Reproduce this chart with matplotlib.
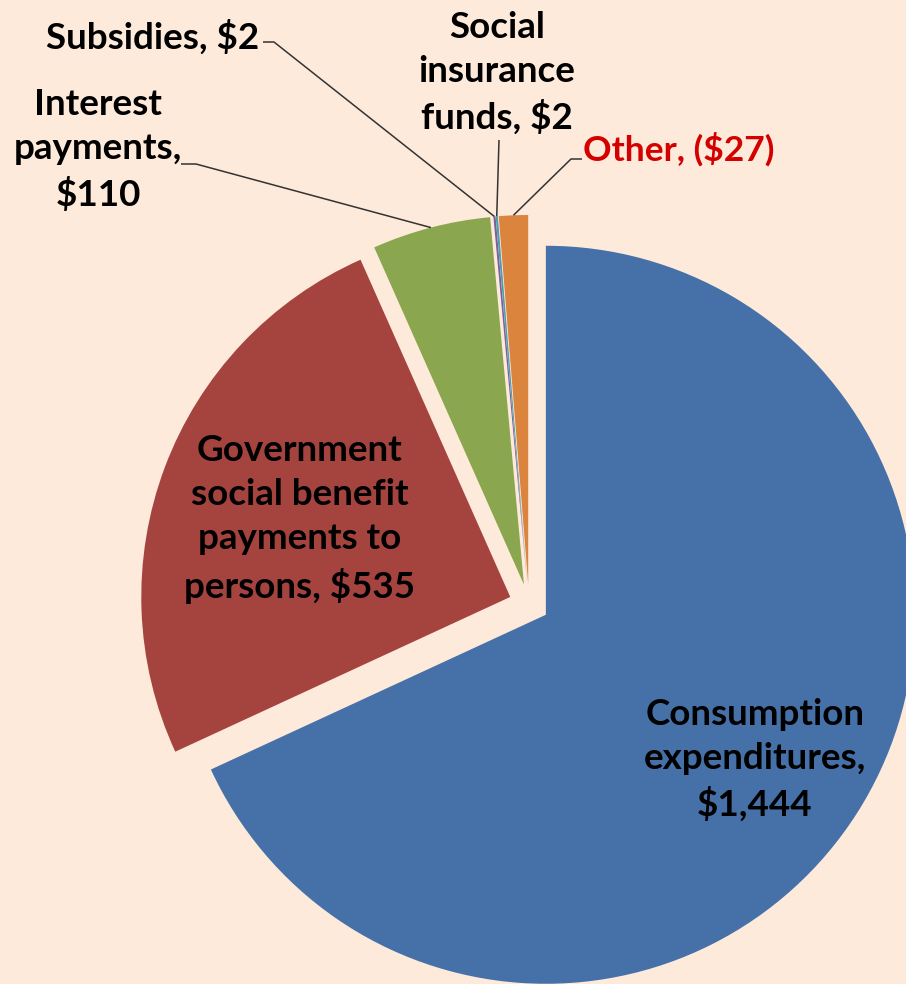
import numpy as np
import matplotlib

matplotlib.use("Agg")
import matplotlib.pyplot as plt

# Government spending components ($ billions); "Other" is negative
categories = ["Consumption expenditures", "Government social benefit payments to persons",
              "Interest payments", "Subsidies", "Social insurance funds", "Other"]
values = [1444, 535, 110, 2, 2, -27]
labels = ["Consumption\nexpenditures,\n$1,444",
          "Government\nsocial benefit\npayments to\npersons, $535",
          "Interest\npayments,\n$110",
          "Subsidies, $2",
          "Social\ninsurance\nfunds, $2",
          "Other, ($27)"]

colors = ["#4671A8", "#A5443F", "#8AA64F", "#7A5F99", "#4C9DB6", "#DB843E"]
bg = "#FDEADA"

W, H = 906, 984
fig = plt.figure(figsize=(W / 100, H / 100), dpi=100, facecolor=bg)
ax = fig.add_axes([0, 0, 1, 1])

plt.rcParams["font.family"] = ["Lato", "DejaVu Sans"]

R = 369
center = (529, H - 604)
sizes = np.abs(values)
wedges, _ = ax.pie(sizes, colors=colors, startangle=90, counterclock=False,
                   explode=[20] * len(sizes), radius=R, center=center,
                   wedgeprops=dict(linewidth=0), frame=True)
ax.set_xlim(0, W)
ax.set_ylim(0, H)
ax.set_aspect("equal")
ax.axis("off")


def rim(w):
    # point on the outer arc at the wedge's mid angle
    a = np.deg2rad(0.5 * (w.theta1 + w.theta2))
    cx, cy = w.center
    return cx + w.r * np.cos(a), cy + w.r * np.sin(a)


def y(v):
    return H - v


txt = dict(fontsize=26.5, fontweight="bold", ha="center", va="center",
           linespacing=1.41)

# labels inside the two big slices
ax.text(755, y(760), labels[0], color="black", **txt)
ax.text(300, y(519), labels[1], color="black", **txt)

# outside labels with leader lines
ax.text(98, y(150), labels[2], color="black", **txt)
ax.text(153, y(37), labels[3], color="black", **txt)
ax.text(497, y(73), labels[4], color="black", **txt)
ax.text(679, y(149), labels[5], color="#D40000",
        **{**txt, "fontsize": 25.5})

leaders = [
    (2, [(181, y(164)), (196, y(164))]),
    (3, [(263, y(42)), (274, y(42))]),
    (4, [(499, y(140))]),
    (5, [(582, y(159)), (571, y(159))]),
]
for i, pts in leaders:
    px, py = rim(wedges[i])
    xs = [p[0] for p in pts] + [px]
    ys = [p[1] for p in pts] + [py]
    ax.plot(xs, ys, color="#333333", lw=1.1, solid_capstyle="butt")

fig.savefig("out.png", dpi=100, facecolor=bg)
